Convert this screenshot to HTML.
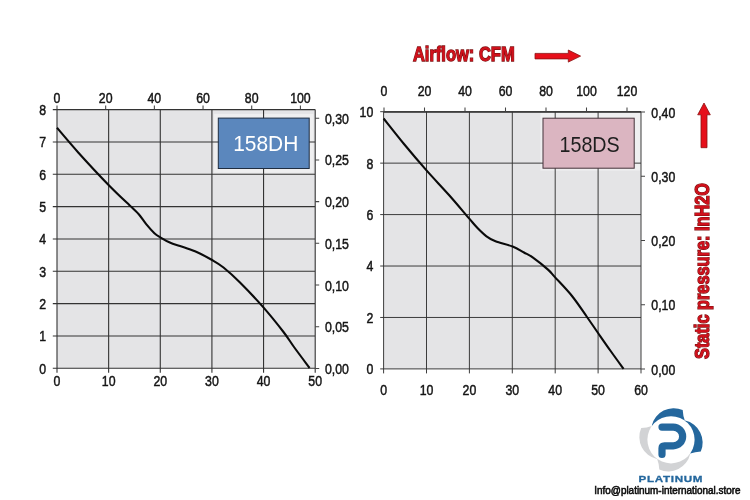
<!DOCTYPE html>
<html lang="en"><head><meta charset="utf-8"><title>158DH / 158DS fan curves</title>
<style>
html,body{margin:0;padding:0;background:#fff;}
body{width:750px;height:500px;overflow:hidden;font-family:"Liberation Sans",sans-serif;}
svg{display:block;}
.t{font-family:"Liberation Sans",sans-serif;font-size:15.5px;fill:#151515;stroke:#151515;stroke-width:0.5;}
.g{stroke:#333333;stroke-width:1.05;fill:none;}
.tk{stroke:#444444;stroke-width:1.05;fill:none;}
.cv{stroke:#0a0a0a;stroke-width:2.1;fill:none;stroke-linecap:butt;stroke-linejoin:round;}
.red{font-family:"Liberation Sans",sans-serif;font-weight:bold;font-size:20.2px;fill:#d0101b;stroke:#7c1010;stroke-width:1.3;paint-order:stroke;}
</style></head><body>
<svg width="750" height="500" viewBox="0 0 750 500">
<rect width="750" height="500" fill="#ffffff"/>
<rect x="57" y="109.6" width="258.2" height="258.7" fill="#e4e4e6"/>
<rect x="214.1" y="113.9" width="99.3" height="58.8" fill="#efeff0"/>
<path class="g" style="stroke-width:1.1" d="M57 109.6V372.8M108.64 109.6V372.8M160.28 109.6V372.8M211.92 109.6V372.8M263.56 109.6V372.8M315.2 109.6V372.8M52.8 368.3H315.2M52.8 335.96H315.2M52.8 303.62H315.2M52.8 271.29H315.2M52.8 238.95H315.2M52.8 206.61H315.2M52.8 174.27H315.2M52.8 141.94H315.2M52.8 109.6H315.2"/>
<path class="tk" d="M57 105.4V109.6M105.68 105.4V109.6M154.36 105.4V109.6M203.04 105.4V109.6M251.72 105.4V109.6M300.4 105.4V109.6M315.2 368.4H319.2M315.2 326.7H319.2M315.2 285H319.2M315.2 243.3H319.2M315.2 201.6H319.2M315.2 159.9H319.2M315.2 118.2H319.2"/>
<text class="t" transform="translate(57 385.9) scale(0.795 1)" text-anchor="middle" >0</text>
<text class="t" transform="translate(108.64 385.9) scale(0.795 1)" text-anchor="middle" >10</text>
<text class="t" transform="translate(160.28 385.9) scale(0.795 1)" text-anchor="middle" >20</text>
<text class="t" transform="translate(211.92 385.9) scale(0.795 1)" text-anchor="middle" >30</text>
<text class="t" transform="translate(263.56 385.9) scale(0.795 1)" text-anchor="middle" >40</text>
<text class="t" transform="translate(315.2 385.9) scale(0.795 1)" text-anchor="middle" >50</text>
<text class="t" transform="translate(46.2 373.7) scale(0.795 1)" text-anchor="end" >0</text>
<text class="t" transform="translate(46.2 341.36) scale(0.795 1)" text-anchor="end" >1</text>
<text class="t" transform="translate(46.2 309.02) scale(0.795 1)" text-anchor="end" >2</text>
<text class="t" transform="translate(46.2 276.69) scale(0.795 1)" text-anchor="end" >3</text>
<text class="t" transform="translate(46.2 244.35) scale(0.795 1)" text-anchor="end" >4</text>
<text class="t" transform="translate(46.2 212.01) scale(0.795 1)" text-anchor="end" >5</text>
<text class="t" transform="translate(46.2 179.67) scale(0.795 1)" text-anchor="end" >6</text>
<text class="t" transform="translate(46.2 147.34) scale(0.795 1)" text-anchor="end" >7</text>
<text class="t" transform="translate(46.2 115) scale(0.795 1)" text-anchor="end" >8</text>
<text class="t" transform="translate(57 102.7) scale(0.795 1)" text-anchor="middle" >0</text>
<text class="t" transform="translate(105.68 102.7) scale(0.795 1)" text-anchor="middle" >20</text>
<text class="t" transform="translate(154.36 102.7) scale(0.795 1)" text-anchor="middle" >40</text>
<text class="t" transform="translate(203.04 102.7) scale(0.795 1)" text-anchor="middle" >60</text>
<text class="t" transform="translate(251.72 102.7) scale(0.795 1)" text-anchor="middle" >80</text>
<text class="t" transform="translate(300.4 102.7) scale(0.795 1)" text-anchor="middle" >100</text>
<text class="t" transform="translate(324.9 373.9) scale(0.795 1)" text-anchor="start" >0,00</text>
<text class="t" transform="translate(324.9 332.2) scale(0.795 1)" text-anchor="start" >0,05</text>
<text class="t" transform="translate(324.9 290.5) scale(0.795 1)" text-anchor="start" >0,10</text>
<text class="t" transform="translate(324.9 248.8) scale(0.795 1)" text-anchor="start" >0,15</text>
<text class="t" transform="translate(324.9 207.1) scale(0.795 1)" text-anchor="start" >0,20</text>
<text class="t" transform="translate(324.9 165.4) scale(0.795 1)" text-anchor="start" >0,25</text>
<text class="t" transform="translate(324.9 123.7) scale(0.795 1)" text-anchor="start" >0,30</text>
<path class="cv" d="M57 127.8C60.5 131.87 69.37 142.63 78 152.2C86.63 161.77 99.8 175.97 108.8 185.2C117.8 194.43 126.93 202.67 132 207.6C137.07 212.53 136.8 212 139.2 214.8C141.6 217.6 143.87 221.33 146.4 224.4C148.93 227.47 152.1 231.05 154.4 233.2C156.7 235.35 157.53 235.7 160.2 237.3C162.87 238.9 167.1 241.35 170.4 242.8C173.7 244.25 175.9 244.58 180 246C184.1 247.42 189.65 248.97 195 251.3C200.35 253.63 207.35 257.3 212.1 260C216.85 262.7 218.85 263.75 223.5 267.5C228.15 271.25 233.35 275.85 240 282.5C246.65 289.15 256.15 299.15 263.4 307.4C270.65 315.65 278.4 325.4 283.5 332C288.6 338.6 289.65 341 294 347C298.35 353 307 364.5 309.6 368"/>
<rect x="218.3" y="118.1" width="90.9" height="50.4" fill="#5b87bd" stroke="#1f2d40" stroke-width="1"/>
<text transform="translate(265.75 151.4) scale(0.94 1)" text-anchor="middle" font-family='"Liberation Sans", sans-serif' font-size="22.3" fill="#ffffff">158DH</text>
<rect x="383.6" y="111.7" width="257.4" height="257.2" fill="#e4e4e6"/>
<rect x="540.4" y="112.7" width="100.3" height="57.9" fill="#efeff0"/>
<path class="g" style="stroke-width:0.95" d="M383.6 111.7V373.4M426.5 111.7V373.4M469.4 111.7V373.4M512.3 111.7V373.4M555.2 111.7V373.4M598.1 111.7V373.4M641 111.7V373.4M380.2 368.9H641M380.2 317.46H641M380.2 266.02H641M380.2 214.58H641M380.2 163.14H641M380.2 111.7H641"/>
<path class="g" style="stroke-width:1.6" d="M383.6 111.95H641"/>
<path class="tk" d="M384 107.5V111.7M424.5 107.5V111.7M465 107.5V111.7M505.5 107.5V111.7M546 107.5V111.7M586.5 107.5V111.7M627 107.5V111.7M641 369H645M641 304.75H645M641 240.5H645M641 176.25H645M641 112H645"/>
<text class="t" transform="translate(383.6 395.2) scale(0.795 1)" text-anchor="middle" >0</text>
<text class="t" transform="translate(426.5 395.2) scale(0.795 1)" text-anchor="middle" >10</text>
<text class="t" transform="translate(469.4 395.2) scale(0.795 1)" text-anchor="middle" >20</text>
<text class="t" transform="translate(512.3 395.2) scale(0.795 1)" text-anchor="middle" >30</text>
<text class="t" transform="translate(555.2 395.2) scale(0.795 1)" text-anchor="middle" >40</text>
<text class="t" transform="translate(598.1 395.2) scale(0.795 1)" text-anchor="middle" >50</text>
<text class="t" transform="translate(641 395.2) scale(0.795 1)" text-anchor="middle" >60</text>
<text class="t" transform="translate(373.3 374.3) scale(0.795 1)" text-anchor="end" >0</text>
<text class="t" transform="translate(373.3 322.86) scale(0.795 1)" text-anchor="end" >2</text>
<text class="t" transform="translate(373.3 271.42) scale(0.795 1)" text-anchor="end" >4</text>
<text class="t" transform="translate(373.3 219.98) scale(0.795 1)" text-anchor="end" >6</text>
<text class="t" transform="translate(373.3 168.54) scale(0.795 1)" text-anchor="end" >8</text>
<text class="t" transform="translate(373.3 117.1) scale(0.795 1)" text-anchor="end" >10</text>
<text class="t" transform="translate(384 96.3) scale(0.795 1)" text-anchor="middle" >0</text>
<text class="t" transform="translate(424.5 96.3) scale(0.795 1)" text-anchor="middle" >20</text>
<text class="t" transform="translate(465 96.3) scale(0.795 1)" text-anchor="middle" >40</text>
<text class="t" transform="translate(505.5 96.3) scale(0.795 1)" text-anchor="middle" >60</text>
<text class="t" transform="translate(546 96.3) scale(0.795 1)" text-anchor="middle" >80</text>
<text class="t" transform="translate(586.5 96.3) scale(0.795 1)" text-anchor="middle" >100</text>
<text class="t" transform="translate(627 96.3) scale(0.795 1)" text-anchor="middle" >120</text>
<text class="t" transform="translate(651.3 374.5) scale(0.795 1)" text-anchor="start" >0,00</text>
<text class="t" transform="translate(651.3 310.25) scale(0.795 1)" text-anchor="start" >0,10</text>
<text class="t" transform="translate(651.3 246) scale(0.795 1)" text-anchor="start" >0,20</text>
<text class="t" transform="translate(651.3 181.75) scale(0.795 1)" text-anchor="start" >0,30</text>
<text class="t" transform="translate(651.3 117.5) scale(0.795 1)" text-anchor="start" >0,40</text>
<path class="cv" d="M383.6 118.5C387 122.75 396.85 135.35 404 144C411.15 152.65 419 161.9 426.5 170.4C434 178.9 441.9 187 449 195C456.1 203 464.35 212.9 469.1 218.4C473.85 223.9 474.6 225.02 477.5 228C480.4 230.98 483.5 234.08 486.5 236.3C489.5 238.52 491.15 239.6 495.5 241.3C499.85 243 507.85 244.63 512.6 246.5C517.35 248.37 520.6 250.65 524 252.5C527.4 254.35 529 254.75 533 257.6C537 260.45 544.35 266.35 548 269.6C551.65 272.85 550.9 272.7 554.9 277.1C558.9 281.5 566.65 289.35 572 296C577.35 302.65 582.6 310.75 587 317C591.4 323.25 594.4 327.75 598.4 333.5C602.4 339.25 606.8 345.6 611 351.5C615.2 357.4 621.5 366 623.6 368.9"/>
<rect x="543" y="118.2" width="91.2" height="50" fill="#dbb5c1" stroke="#45323a" stroke-width="1"/>
<text transform="translate(589.6 151.5) scale(0.885 1)" text-anchor="middle" font-family='"Liberation Sans", sans-serif' font-size="22.3" fill="#1e1e1e">158DS</text>
<text class="red" transform="translate(412.9 61.2) scale(0.818 1)">Airflow: CFM</text>
<path d="M535 53.4H568.3V50L580.6 56.1L568.3 62.1V58.9H535Z" fill="#e60f1a" stroke="#8a1212" stroke-width="0.8" stroke-linejoin="miter"/>
<text class="red" transform="translate(709.3 359) rotate(-90) scale(0.809 1)">Static pressure: InH2O</text>
<path d="M701 147.7V114.8H697.7L704 103L710.3 114.8H707V147.7Z" fill="#e60f1a" stroke="#8a1212" stroke-width="0.8"/>
<g transform="translate(671 439.8)">
<path transform="rotate(0)" d="M-19.2 -14.2A22.53 22.53 0 0 1 11.7 -29.8Q12 -24 13.8 -19.3L0 0Z" fill="#24679d"/>
<path transform="rotate(90)" d="M-19.2 -14.2A22.53 22.53 0 0 1 11.7 -29.8Q12 -24 13.8 -19.3L0 0Z" fill="#24679d"/>
<path transform="rotate(180)" d="M-19.2 -14.2A22.53 22.53 0 0 1 11.7 -29.8Q12 -24 13.8 -19.3L0 0Z" fill="#d2d3d5"/>
<path transform="rotate(270)" d="M-19.2 -14.2A22.53 22.53 0 0 1 11.7 -29.8Q12 -24 13.8 -19.3L0 0Z" fill="#d2d3d5"/>
<circle r="23.6" fill="#fff"/>
<path d="M-9 -12.7H2.3A9.35 9.35 0 0 1 2.3 6H-6.5Q-9 6 -9 8.5V14.6" fill="none" stroke="#24679d" stroke-width="7.2" stroke-linecap="round" stroke-linejoin="round"/>
</g>
<text transform="translate(638.6 482) scale(1.2 1)" font-family='"Liberation Sans", sans-serif' font-weight="bold" font-size="9.7" letter-spacing="0.55" fill="#24679d" stroke="#24679d" stroke-width="0.3">PLATINUM</text>
<text x="594.3" y="493.6" font-family='"Liberation Sans", sans-serif' font-size="10.3" fill="#0c0c0c" stroke="#0c0c0c" stroke-width="0.55" textLength="146.2" lengthAdjust="spacingAndGlyphs">Info@platinum-international.store</text>
</svg>
</body></html>
